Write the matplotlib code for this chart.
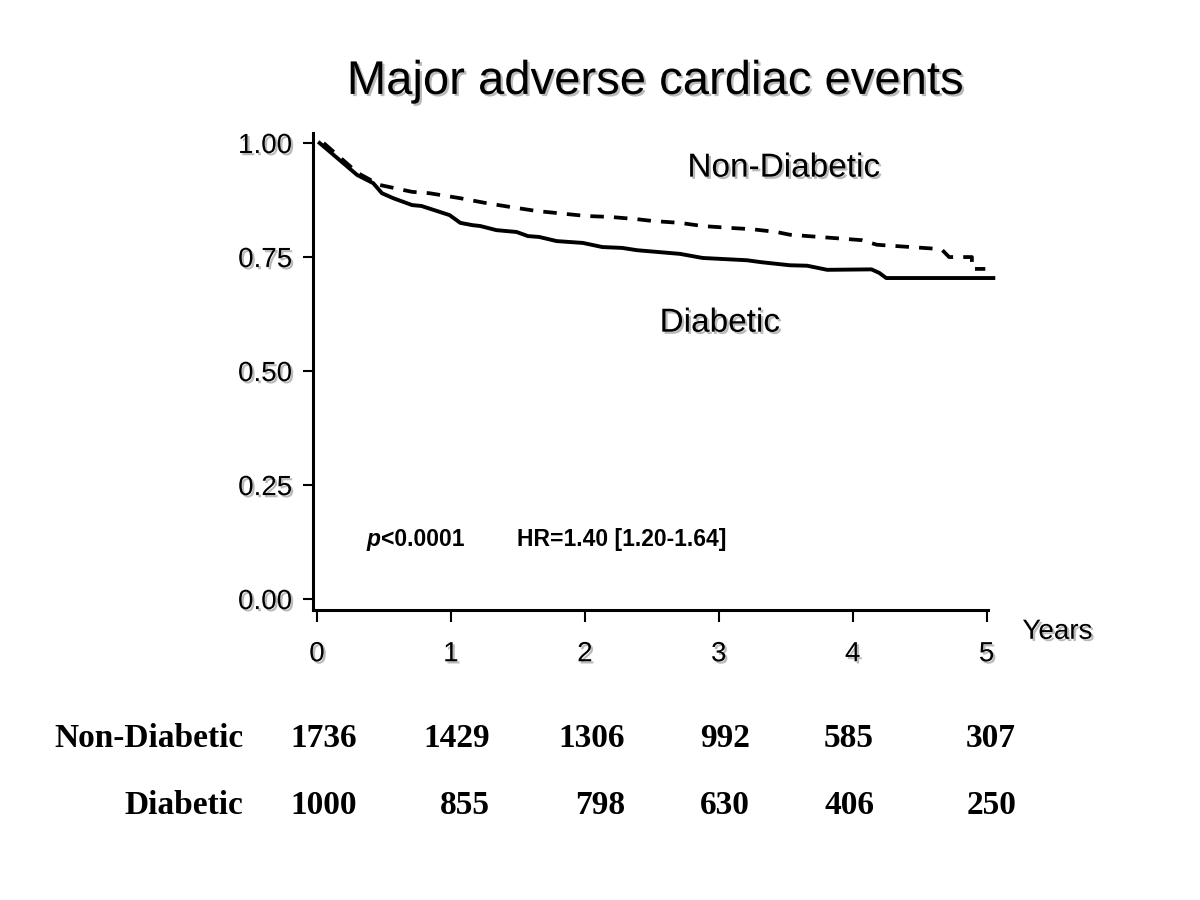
import matplotlib
matplotlib.use("Agg")
import matplotlib.pyplot as plt
import matplotlib.patheffects as pe
from matplotlib.transforms import blended_transform_factory

# Kaplan-Meier curves (years, event-free proportion)
diab_t = [0.02, 0.30, 0.42, 0.485, 0.57, 0.71, 0.78, 0.99, 1.07, 1.16, 1.22, 1.34,
          1.49, 1.575, 1.66, 1.79, 1.985, 2.13, 2.28, 2.39, 2.71, 2.88, 3.21, 3.31,
          3.53, 3.66, 3.81, 4.14, 4.20, 4.25, 5.05]
diab_s = [1.0, 0.930, 0.912, 0.890, 0.879, 0.864, 0.862, 0.842, 0.825, 0.820, 0.818, 0.809,
          0.805, 0.796, 0.794, 0.785, 0.781, 0.772, 0.770, 0.765, 0.757, 0.748, 0.743, 0.739,
          0.732, 0.731, 0.722, 0.723, 0.715, 0.704, 0.704]

nondiab_t = [0.05, 0.306, 0.47, 0.71, 0.84, 1.07, 1.27, 1.44, 1.64, 1.81, 2.01, 2.19,
             2.39, 2.51, 2.71, 2.88, 3.08, 3.25, 3.43, 3.53, 4.07, 4.18, 4.63, 4.67,
             4.72, 4.89, 4.89, 4.99]
nondiab_s = [1.0, 0.934, 0.908, 0.893, 0.890, 0.879, 0.868, 0.860, 0.851, 0.846, 0.840, 0.838,
             0.833, 0.829, 0.825, 0.818, 0.814, 0.811, 0.805, 0.799, 0.787, 0.777, 0.768, 0.765,
             0.750, 0.750, 0.724, 0.724]

years = [0, 1, 2, 3, 4, 5]
yticks = [0.0, 0.25, 0.5, 0.75, 1.0]
risk_nondiab = [1736, 1429, 1306, 992, 585, 307]
risk_diab = [1000, 855, 798, 630, 406, 250]

title = "Major adverse cardiac events"

plt.rcParams["font.family"] = ["Liberation Sans", "DejaVu Sans"]

shadow = [pe.SimplePatchShadow(offset=(1.6, -1.6), shadow_rgbFace="0.55", alpha=0.6),
          pe.Normal()]

fig = plt.figure(figsize=(12, 9), dpi=100)
ax = fig.add_axes([0.2608, 0.3222, 0.5625, 0.53])

ax.plot(diab_t, diab_s, color="black", lw=2.8, solid_joinstyle="round", clip_on=False)
ax.plot(nondiab_t, nondiab_s, color="black", lw=2.7, dashes=(3.6, 2.7), clip_on=False)

ax.set_xlim(-0.03, 5.01)
ax.set_ylim(-0.024, 1.022)
ax.set_xticks(years)
ax.set_yticks(yticks)
ax.set_yticklabels([f"{v:.2f}" for v in yticks])

for side in ["top", "right"]:
    ax.spines[side].set_visible(False)
for side in ["left", "bottom"]:
    ax.spines[side].set_linewidth(2.2)

ax.tick_params(axis="y", length=7, width=1.5, pad=8, labelsize=20)
ax.tick_params(axis="x", length=8.5, width=1.5, pad=14, labelsize=20)
for lbl in ax.get_xticklabels() + ax.get_yticklabels():
    lbl.set_path_effects(shadow)

# curve labels and stats
ax.text(3.485, 0.945, "Non-Diabetic", fontsize=24, ha="center", va="center",
        path_effects=shadow)
ax.text(3.007, 0.605, "Diabetic", fontsize=24, ha="center", va="center",
        path_effects=shadow)
ax.text(0.37, 0.13, "p", fontsize=16.5, fontweight="bold", fontstyle="italic",
        ha="left", va="center")
ax.text(0.475, 0.13, "<0.0001", fontsize=16.5, fontweight="bold", ha="left", va="center")
ax.text(1.495, 0.13, "HR=1.40 [1.20-1.64]", fontsize=16.5, fontweight="bold",
        ha="left", va="center")

fig.text(0.852, 0.298, "Years", fontsize=20, ha="left", va="center", path_effects=shadow)
fig.text(0.546, 0.909, title, fontsize=34, ha="center", va="center", path_effects=shadow)

# number at risk table
trans = blended_transform_factory(ax.transData, fig.transFigure)
col_offset = [0.30, 0.29, 0.30, 0.23, 0.16, 0.22]
serif = ["Liberation Serif", "DejaVu Serif"]
rows = [("Non-Diabetic", risk_nondiab, 0.170), ("Diabetic", risk_diab, 0.0955)]
for name, vals, ybase in rows:
    ax.text(-0.55, ybase, name, transform=trans, family=serif, fontsize=24,
            fontweight="bold", ha="right", va="baseline", clip_on=False)
    for yr, off, v in zip(years, col_offset, vals):
        ax.text(yr + off, ybase, str(v), transform=trans, family=serif, fontsize=24,
                fontweight="bold", ha="right", va="baseline", clip_on=False)

fig.savefig("out.png", dpi=100, facecolor="white")
